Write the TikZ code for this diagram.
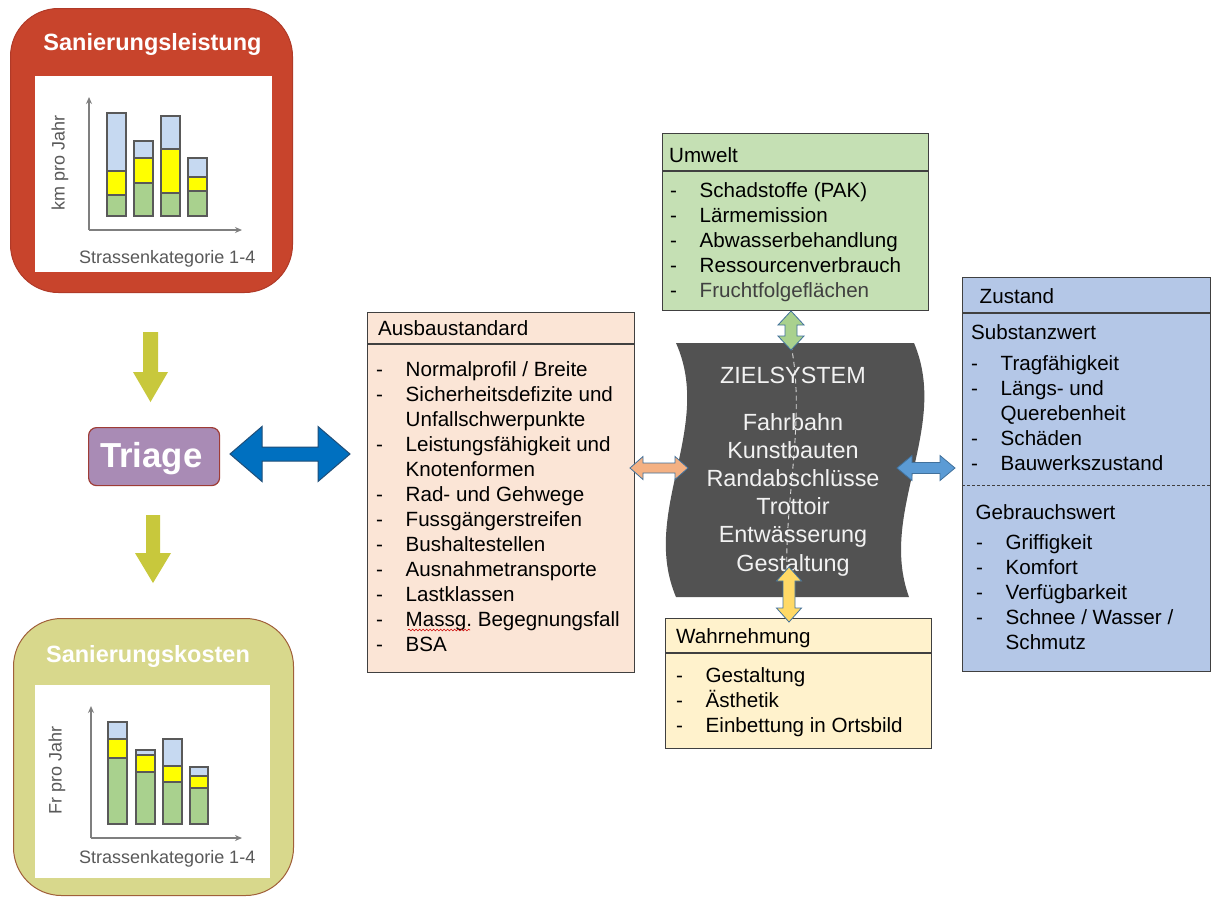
\documentclass[tikz,border=0pt]{standalone}
\usepackage{fontspec}
\setmainfont{Liberation Sans}
\usetikzlibrary{arrows.meta,decorations.pathmorphing}
\frenchspacing

\definecolor{redbox}{HTML}{C8442C}
\definecolor{rededge}{HTML}{B03A28}
\definecolor{khaki}{HTML}{D8D88C}
\definecolor{khakiedge}{HTML}{A0603A}
\definecolor{barblue}{HTML}{C6D9F1}
\definecolor{bargreen}{HTML}{A9D18E}
\definecolor{baryel}{HTML}{FFFF00}
\definecolor{axisgray}{HTML}{7F7F7F}
\definecolor{txtgray}{HTML}{595959}
\definecolor{olivearr}{HTML}{C8C83C}
\definecolor{triagefill}{HTML}{A98BB5}
\definecolor{triageedge}{HTML}{9E3C36}
\definecolor{bigblue}{HTML}{0070C0}
\definecolor{bigblueedge}{HTML}{1F4E79}
\definecolor{peach}{HTML}{FBE5D6}
\definecolor{lgreen}{HTML}{C5E0B4}
\definecolor{lblue}{HTML}{B4C7E7}
\definecolor{lyellow}{HTML}{FFF2CC}
\definecolor{shapegray}{HTML}{525252}
\definecolor{arrorange}{HTML}{F4B183}
\definecolor{arrgreen}{HTML}{A9D18E}
\definecolor{arryellow}{HTML}{FFD966}
\definecolor{arrblue}{HTML}{5B9BD5}
\definecolor{arredge}{HTML}{41719C}

% horizontal double block arrow: style, x1, x2, y, shaft half, head half, head length
\newcommand\hdarr[7]{%
  \path[#1] (#2,#4) -- (#2+#7,#4-#6) -- (#2+#7,#4-#5) -- (#3-#7,#4-#5) -- (#3-#7,#4-#6)
    -- (#3,#4) -- (#3-#7,#4+#6) -- (#3-#7,#4+#5) -- (#2+#7,#4+#5) -- (#2+#7,#4+#6) -- cycle;}
% vertical double block arrow: style, y1, y2, x, shaft half, head half, head length
\newcommand\vdarr[7]{%
  \path[#1] (#4,#2) -- (#4-#6,#2+#7) -- (#4-#5,#2+#7) -- (#4-#5,#3-#7) -- (#4-#6,#3-#7)
    -- (#4,#3) -- (#4+#6,#3-#7) -- (#4+#5,#3-#7) -- (#4+#5,#2+#7) -- (#4+#6,#2+#7) -- cycle;}
% single down block arrow: style, x, ytop, yhead, ytip, shaft half, head half
\newcommand\downarr[7]{%
  \path[#1] (#2-#6,#3) -- (#2+#6,#3) -- (#2+#6,#4) -- (#2+#7,#4) -- (#2,#5)
    -- (#2-#7,#4) -- (#2-#6,#4) -- cycle;}
% stacked bar: x1, x2, bottom, green top, yellow top, top
\newcommand\stackbar[6]{%
  \draw[barline, fill=bargreen] (#1,#3) rectangle (#2,#4);
  \draw[barline, fill=baryel] (#1,#4) rectangle (#2,#5);
  \draw[barline, fill=barblue] (#1,#5) rectangle (#2,#6);}

\tikzset{
  panel/.style={draw=black!75, line width=1.1pt, rectangle, inner sep=0pt, anchor=north west},
  item/.style={anchor=base west, inner sep=0pt, font=\fontsize{20.6pt}{24pt}\selectfont},
  ztext/.style={anchor=base, inner sep=0pt, text=white!95!black, font=\fontsize{23.4pt}{28pt}\selectfont},
  bigtitle/.style={anchor=base, inner sep=0pt, text=white, font=\bfseries\fontsize{23.5pt}{28pt}\selectfont},
  axislabel/.style={inner sep=0pt, text=txtgray, font=\fontsize{18pt}{22pt}\selectfont},
  barline/.style={draw=txtgray, line width=1.1pt},
  axisline/.style={draw=axisgray, line width=1.4pt, -{Stealth[length=7pt,width=6pt]}},
  smallarr/.style={fill=#1, draw=arredge, line width=0.8pt},
}
\newcommand\dashitem[4]{\node[item] (#1) at (#2,#3) {\makebox[29.5pt][l]{-}#4};}

\begin{document}
\begin{tikzpicture}[x=1pt,y=-1pt]
\useasboundingbox[fill=white] (0,0) rectangle (1212,898);

% ---------- Sanierungsleistung ----------
\node[draw=rededge, fill=redbox, line width=1pt, rounded corners=48pt, minimum width=282pt,
  minimum height=284pt, anchor=north west, inner sep=0pt] (leist) at (10,8) {};
\node[bigtitle] (leistT) at (152.5,50) {Sanierungsleistung};
\node[fill=white, minimum width=237pt, minimum height=196pt, anchor=north west, inner sep=0pt] (leistP) at (35,76) {};
\coordinate (o1) at (89,230);
\draw[axisline] (o1) -- (89,97);
\draw[axisline] (o1) -- (242,230);
\stackbar{107}{126}{216}{195}{171}{113}
\stackbar{134}{153}{216}{183}{158}{141}
\stackbar{161}{180}{216}{193}{149}{116}
\stackbar{188}{207}{216}{191}{177}{158}
\node[axislabel, rotate=90] (leistY) at (60,163) {km pro Jahr};
\node[axislabel, anchor=base west] (leistX) at (79,263) {Strassenkategorie 1-4};

% ---------- Sanierungskosten ----------
\node[draw=khakiedge, fill=khaki, line width=1pt, rounded corners=48pt, minimum width=280pt,
  minimum height=277pt, anchor=north west, inner sep=0pt] (kost) at (13,618) {};
\node[bigtitle] (kostT) at (148,662) {Sanierungskosten};
\node[fill=white, minimum width=235pt, minimum height=193pt, anchor=north west, inner sep=0pt] (kostP) at (35,685) {};
\coordinate (o2) at (91,838);
\draw[axisline] (o2) -- (91,706);
\draw[axisline] (o2) -- (242,838);
\stackbar{108}{127}{824}{758}{739}{722}
\stackbar{136}{155}{824}{772}{755}{750}
\stackbar{163}{182}{824}{782}{766}{739}
\stackbar{190}{208}{824}{788}{776}{767}
\node[axislabel, rotate=90] (kostY) at (57,770) {Fr pro Jahr};
\node[axislabel, anchor=base west] (kostX) at (79,863) {Strassenkategorie 1-4};

% ---------- Triage and arrows ----------
\downarr{fill=olivearr}{150.5}{332}{372}{402}{7.5}{17.5}
\downarr{fill=olivearr}{153}{515}{553}{583}{7}{18}
\node[draw=triageedge, fill=triagefill, line width=1.2pt, rounded corners=8pt, minimum width=131pt,
  minimum height=58pt, anchor=north west, inner sep=0pt] (triage) at (88,427) {};
\node[anchor=base, inner sep=0pt, text=white, font=\bfseries\fontsize{34.7pt}{40pt}\selectfont] (triageT) at (151.3,467) {Triage};
\hdarr{fill=bigblue, draw=bigblueedge, line width=1pt}{230}{350}{454}{7}{27.5}{32}

% ---------- Ausbaustandard ----------
\node[panel, fill=peach, minimum width=267pt, minimum height=360pt] (aus) at (367,312) {};
\draw[black!75, line width=1.1pt] (367,344) -- (634,344);
\node[item] (ausT) at (378,335) {Ausbaustandard};
\dashitem{a1}{376}{376}{Normalprofil / Breite}
\dashitem{a2}{376}{401}{Sicherheitsdefizite und}
\node[item] (a2b) at (405.5,426) {Unfallschwerpunkte};
\dashitem{a3}{376}{451}{Leistungsfähigkeit und}
\node[item] (a3b) at (405.5,476) {Knotenformen};
\dashitem{a4}{376}{501}{Rad- und Gehwege}
\dashitem{a5}{376}{526}{Fussgängerstreifen}
\dashitem{a6}{376}{551}{Bushaltestellen}
\dashitem{a7}{376}{576}{Ausnahmetransporte}
\dashitem{a8}{376}{601}{Lastklassen}
\dashitem{a9}{376}{626}{Massg. Begegnungsfall}
\dashitem{a10}{376}{651}{BSA}
\draw[red!80!black, line width=0.6pt, decorate, decoration={snake, amplitude=0.9pt, segment length=3.5pt}] (408,630) -- (470,630);

% ---------- Umwelt ----------
\node[panel, fill=lgreen, minimum width=266pt, minimum height=177pt] (umw) at (662,133) {};
\draw[black!75, line width=1.1pt] (662,171) -- (928,171);
\node[item] (umwT) at (669,162) {Umwelt};
\dashitem{u1}{670}{197}{Schadstoffe (PAK)}
\dashitem{u2}{670}{222}{Lärmemission}
\dashitem{u3}{670}{247}{Abwasserbehandlung}
\dashitem{u4}{670}{272}{Ressourcenverbrauch}
\node[item] (u5) at (670,297) {\makebox[29.5pt][l]{-}\textcolor{black!75}{Fruchtfolgeflächen}};

% ---------- Wahrnehmung ----------
\node[panel, fill=lyellow, minimum width=266pt, minimum height=130pt] (wahr) at (665,618) {};
\draw[black!75, line width=1.1pt] (665,653) -- (931,653);
\node[item] (wahrT) at (676,643) {Wahrnehmung};
\dashitem{w1}{676}{682}{Gestaltung}
\dashitem{w2}{676}{707}{Ästhetik}
\dashitem{w3}{676}{732}{Einbettung in Ortsbild}

% ---------- Zustand ----------
\node[panel, fill=lblue, minimum width=248pt, minimum height=394pt] (zus) at (962,277) {};
\draw[black!75, line width=1.1pt] (962,313) -- (1210,313);
\draw[black!75, line width=0.9pt, dash pattern=on 3pt off 2pt] (962,485) -- (1210,485);
\node[item] (zusT) at (979.5,303) {Zustand};
\node[item] (subT) at (971,339) {Substanzwert};
\dashitem{z1}{971}{370}{Tragfähigkeit}
\dashitem{z2}{971}{395}{Längs- und}
\node[item] (z2b) at (1000.5,420) {Querebenheit};
\dashitem{z3}{971}{445}{Schäden}
\dashitem{z4}{971}{470}{Bauwerkszustand}
\node[item] (gebT) at (975.5,519) {Gebrauchswert};
\dashitem{g1}{976}{549}{Griffigkeit}
\dashitem{g2}{976}{574}{Komfort}
\dashitem{g3}{976}{599}{Verfügbarkeit}
\dashitem{g4}{976}{624}{Schnee / Wasser /}
\node[item] (g4b) at (1005.5,649) {Schmutz};

% ---------- Zielsystem ----------
\path[fill=shapegray] (676,343) -- (914,343)
  .. controls (950,428) and (878,512) .. (909,597)
  -- (676,597)
  .. controls (640,512) and (714,428) .. (676,343) -- cycle;
\coordinate (zTop) at (791,345);
\coordinate (zBot) at (787,578);
\draw[white!85!black, line width=0.9pt, dash pattern=on 5pt off 3.5pt] (zTop) .. controls (806,420) and (784,500) .. (zBot);
\node[ztext] (zielT) at (793,383) {ZIELSYSTEM};
\node[ztext] (z01) at (793,430) {Fahrbahn};
\node[ztext] (z02) at (793,458) {Kunstbauten};
\node[ztext] (z03) at (793,486) {Randabschlüsse};
\node[ztext] (z04) at (793,514) {Trottoir};
\node[ztext] (z05) at (793,542) {Entwässerung};
\node[ztext] (z06) at (793,571) {Gestaltung};

% ---------- small double arrows ----------
\vdarr{smallarr=arrgreen}{311}{350}{791}{6}{13}{14}
\vdarr{smallarr=arryellow}{567}{622}{789}{6}{12.5}{14}
\hdarr{smallarr=arrorange}{630}{688}{468}{5}{11.5}{13}
\hdarr{smallarr=arrblue}{897}{955}{468}{5.5}{12.5}{15}
\end{tikzpicture}
\end{document}
